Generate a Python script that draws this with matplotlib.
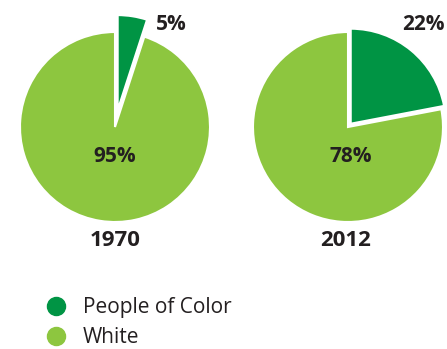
import matplotlib
matplotlib.use("Agg")
import matplotlib.pyplot as plt
from matplotlib.lines import Line2D

years = ["1970", "2012"]
categories = ["People of Color", "White"]
poc = [5, 22]
white = [95, 78]
colors = ["#009444", "#8dc63f"]
text_color = "#231f20"

plt.rcParams['font.family'] = ['Open Sans', 'DejaVu Sans']

W, H = 447, 349
fig = plt.figure(figsize=(W / 100, H / 100), dpi=100)
ax = fig.add_axes([0, 0, 1, 1])

centers = [(115, H - 127), (348, H - 127)]
radius = 95
explode_frac = [0.18, 0.045]
small_lbl = [(171, 25), (423, 25)]
big_lbl = [(115, 156), (351, 156)]
year_lbl = [(115, 241), (346, 241)]

for i, yr in enumerate(years):
    vals = [poc[i], white[i]]
    ax.pie(vals, colors=colors, center=centers[i], radius=radius,
           startangle=90, counterclock=False,
           explode=[explode_frac[i] * radius, 0],
           wedgeprops=dict(edgecolor="white", linewidth=1.5))
    ax.text(small_lbl[i][0], H - small_lbl[i][1], f"{poc[i]}%", ha="center", va="center",
            fontsize=15, fontweight="bold", color=text_color)
    ax.text(big_lbl[i][0], H - big_lbl[i][1], f"{white[i]}%", ha="center", va="center",
            fontsize=15, fontweight="bold", color=text_color)
    ax.text(year_lbl[i][0], H - year_lbl[i][1], yr, ha="center", va="center",
            fontsize=16, fontweight="bold", color=text_color)

ax.set_xlim(0, W)
ax.set_ylim(0, H)
ax.set_aspect("equal")
ax.axis("off")

handles = [Line2D([], [], marker="o", linestyle="none", markersize=13,
                  markerfacecolor=c, markeredgecolor=c) for c in colors]
leg = ax.legend(handles, categories, loc="upper left",
                bbox_to_anchor=(43 / W, 1 - 297 / H), bbox_transform=fig.transFigure,
                frameon=False, fontsize=15, handletextpad=0.72, labelspacing=0.45,
                borderaxespad=0, borderpad=0, handlelength=1.2)
for t in leg.get_texts():
    t.set_color(text_color)

fig.savefig("out.png", dpi=100)
